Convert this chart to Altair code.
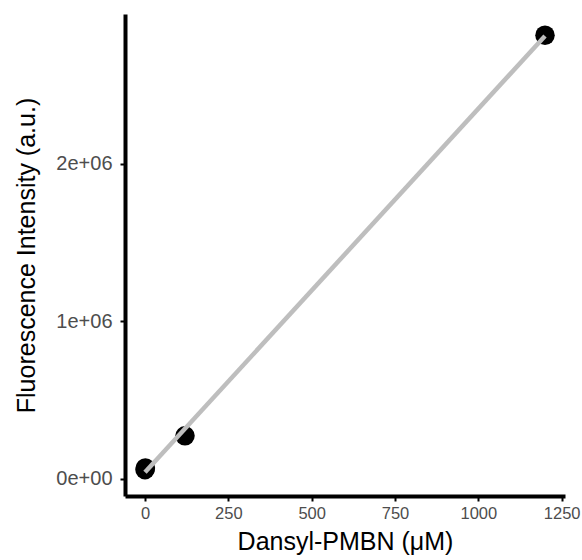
import altair as alt
import pandas as pd

conc = [0, 1.2, 120, 1200]
fluor = [57000, 68000, 272000, 2815000]

df = pd.DataFrame({"conc": conc, "fluor": fluor})

x = alt.X("conc:Q", scale=alt.Scale(domain=[-60, 1260], nice=False, zero=False),
          axis=alt.Axis(values=[0, 250, 500, 750, 1000, 1250], format="d",
                        title="Dansyl-PMBN (μM)", labelFontSize=16.5, labelPadding=4,
                        titlePadding=8))
y = alt.Y("fluor:Q", scale=alt.Scale(domain=[-110000, 2950000], nice=False, zero=False),
          axis=alt.Axis(values=[0, 1000000, 2000000], title="Fluorescence Intensity (a.u.)",
                        labelFontSize=20, labelPadding=8, titlePadding=16,
                        labelExpr="datum.value == 0 ? '0e+00' : format(datum.value/1e6, 'd') + 'e+06'"))

points = alt.Chart(df).mark_circle(size=380, color="black", opacity=1).encode(x=x, y=y)
line = alt.Chart(df).transform_regression("conc", "fluor").mark_line(
    color="#BEBEBE", strokeWidth=4.5).encode(x=x, y=y)

chart = (points + line).properties(
    width=440, height=482,
    autosize=alt.AutoSizeParams(type="none"),
    padding={"left": 125, "top": 14, "right": 17, "bottom": 64},
).configure_view(stroke=None).configure_axis(
    grid=False,
    domainColor="black", domainWidth=4,
    tickColor="black", tickWidth=2, tickSize=5,
    labelColor="#4D4D4D", labelFont="Liberation Sans",
    titleColor="black", titleFont="Liberation Sans", titleFontSize=25, titleFontWeight="normal",
)

chart.save("out.html", embed_options={"renderer": "svg", "actions": False})
